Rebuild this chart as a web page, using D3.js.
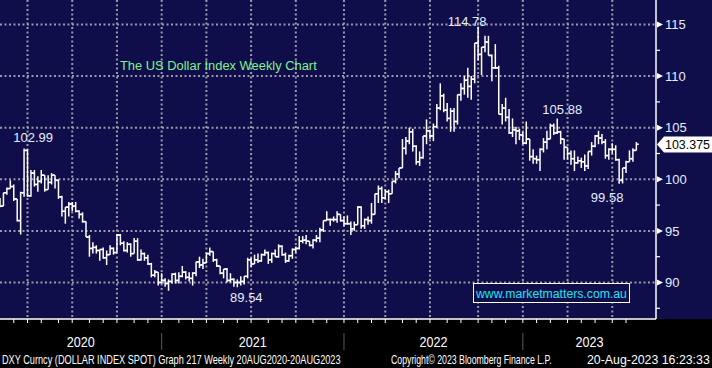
<!DOCTYPE html>
<html lang="en">
<head>
<meta charset="utf-8">
<title>The US Dollar Index Weekly Chart</title>
<script src="https://cdn.jsdelivr.net/npm/d3@7"></script>
<style>
  body { margin: 0; background: #000; overflow: hidden; }
  svg { display: block; }
</style>
</head>
<body>
<script>
// weekly DXY bars, one per Friday starting 31 Jan 2020
var firstWeek = "2020-01-31";

var opens = [
  97.8, 97.4, 98.7, 99.1, 99.3, 98.1, 96.0, 98.7, 102.8, 98.4, 100.6, 99.5, 99.8, 100.4, 99.0, 99.7,
  100.4, 99.9, 98.3, 96.9, 97.3, 97.6, 97.4, 96.9, 96.6, 95.9, 94.4, 93.3, 93.4, 93.1, 93.2, 92.4,
  92.7, 93.3, 92.9, 94.6, 93.8, 93.1, 93.7, 92.8, 94.0, 92.2, 92.8, 92.4, 91.8, 90.7, 91.0, 90.0,
  90.2, 89.9, 90.1, 90.8, 90.2, 90.6, 91.0, 90.5, 90.4, 90.9, 92.0, 91.7, 91.9, 92.8, 93.0, 92.2,
  91.6, 90.9, 91.3, 90.2, 90.3, 90.0, 90.0, 90.1, 90.6, 92.2, 91.8, 92.2, 92.1, 92.7, 92.9, 92.2,
  92.8, 92.5, 93.5, 92.7, 92.1, 92.6, 93.2, 93.3, 94.0, 94.1, 94.0, 93.6, 94.1, 94.3, 95.1, 96.0,
  96.1, 96.1, 96.1, 96.6, 96.0,
  95.7, 95.7, 95.2, 95.6, 97.3, 95.5, 96.1, 96.0, 96.6, 98.6, 99.1, 98.2, 98.8, 98.6, 99.8, 100.5,
  101.1, 103.0, 103.7, 104.6, 103.2, 101.7, 102.1, 104.2, 104.7, 104.2, 105.1, 106.9, 108.1, 106.7, 105.9, 106.6,
  105.6, 108.2, 108.8, 109.6, 109.0, 109.7, 113.2, 112.1, 112.8, 113.3, 112.0, 110.8, 110.8, 106.3, 106.9, 106.0,
  104.5, 104.8, 104.7, 104.3,
  103.5, 103.9, 102.2, 102.0, 101.9, 102.9, 103.6, 103.9, 105.2, 104.5, 104.6, 103.9, 103.1, 102.5, 102.0, 101.6,
  101.8, 101.7, 101.3, 102.7, 103.2, 104.2, 104.0, 103.6, 102.3, 102.9, 102.9, 101.9, 99.9, 101.1, 101.7, 102.0,
  102.8
];
var highs = [
  98.2, 98.7, 99.2, 99.9, 99.5, 98.1, 98.8, 102.99, 102.9, 100.9, 100.9, 100.3, 100.9, 100.4, 100.4, 100.6,
  100.4, 100.0, 98.4, 97.3, 97.8, 97.8, 97.8, 97.0, 96.8, 95.9, 94.6, 93.9, 93.6, 93.2, 93.4, 93.1,
  93.6, 93.4, 94.7, 94.7, 94.0, 93.9, 93.8, 94.3, 94.3, 93.2, 92.9, 92.7, 91.9, 91.2, 91.0, 90.9,
  90.4, 90.3, 90.9, 90.95, 91.0, 91.6, 91.1, 91.0, 91.0, 92.0, 92.5, 92.3, 92.9, 93.4, 93.0, 92.3,
  91.6, 91.3, 91.4, 90.9, 90.4, 90.3, 90.6, 90.6, 92.4, 92.4, 92.7, 92.8, 92.8, 93.2, 93.0, 92.9,
  93.2, 93.7, 93.6, 92.9, 92.7, 93.3, 93.5, 94.5, 94.5, 94.6, 94.0, 94.2, 94.6, 95.3, 96.0, 96.9,
  96.2, 96.4, 96.9, 96.6, 96.4,
  96.5, 95.9, 95.9, 97.4, 97.4, 96.2, 96.4, 97.7, 98.6, 99.4, 99.3, 99.0, 99.0, 99.8, 100.8, 101.1,
  103.9, 104.1, 105.0, 104.9, 103.3, 102.7, 104.2, 105.8, 104.8, 105.4, 107.3, 109.3, 108.3, 107.4, 106.9, 106.9,
  108.2, 109.3, 110.0, 110.8, 110.0, 113.2, 114.78, 112.8, 113.9, 113.9, 112.1, 113.1, 111.0, 107.3, 107.9, 106.8,
  105.9, 105.1, 104.9, 104.6,
  105.6, 103.9, 102.9, 102.3, 103.0, 104.0, 104.7, 105.4, 105.4, 105.88, 104.7, 103.9, 103.1, 102.8, 102.8, 102.2,
  102.1, 102.4, 102.7, 103.6, 104.3, 104.7, 104.4, 103.9, 103.0, 103.5, 103.3, 102.0, 101.1, 101.8, 102.8, 103.0,
  103.6
];
var lows = [
  97.3, 97.4, 98.5, 99.1, 97.9, 95.9, 94.65, 98.3, 98.3, 98.3, 99.3, 98.8, 99.6, 98.8, 99.0, 99.5,
  99.1, 98.1, 96.4, 95.7, 96.4, 96.9, 96.8, 96.2, 95.8, 94.4, 92.5, 92.8, 92.8, 92.1, 92.3, 91.7,
  92.7, 92.7, 92.9, 93.6, 93.0, 92.9, 92.5, 92.8, 92.1, 92.1, 92.1, 91.7, 90.5, 90.5, 89.7, 89.9,
  89.6, 89.2, 89.9, 89.9, 89.9, 90.5, 90.3, 90.1, 89.7, 90.6, 91.4, 91.3, 91.9, 92.6, 92.0, 91.5,
  90.8, 90.4, 90.0, 90.0, 89.6, 89.54, 89.7, 89.8, 90.4, 91.5, 91.8, 91.9, 92.0, 92.6, 91.8, 91.9,
  92.5, 92.4, 92.6, 91.9, 92.0, 92.3, 92.9, 93.2, 93.8, 93.7, 93.5, 93.3, 93.9, 93.9, 94.9, 96.0,
  95.5, 95.9, 95.8, 95.9, 95.5,
  95.6, 94.6, 95.0, 95.6, 95.2, 95.2, 95.6, 95.7, 96.6, 97.7, 97.7, 98.1, 97.7, 98.6, 99.6, 100.1,
  101.1, 102.4, 103.4, 102.7, 101.4, 101.3, 102.0, 103.4, 103.9, 103.7, 105.0, 106.7, 106.5, 105.6, 104.6, 104.6,
  105.3, 107.6, 108.2, 107.9, 107.7, 109.3, 111.5, 110.1, 112.3, 112.0, 109.5, 110.7, 106.3, 105.3, 105.6, 104.4,
  104.1, 103.4, 103.8, 103.4,
  103.4, 101.8, 101.5, 101.5, 100.8, 102.6, 102.9, 103.9, 104.3, 104.4, 103.4, 101.9, 101.9, 101.4, 100.8, 101.5,
  101.1, 100.8, 101.0, 102.3, 103.1, 103.4, 103.4, 102.0, 101.9, 102.5, 101.8, 99.58, 99.6, 100.6, 101.7, 101.7,
  102.8
];
var closes = [
  97.4, 98.7, 99.1, 99.3, 98.1, 96.0, 98.7, 102.8, 98.4, 100.6, 99.5, 99.8, 100.4, 99.0, 99.7, 100.4,
  99.9, 98.3, 96.9, 97.3, 97.6, 97.4, 96.9, 96.6, 95.9, 94.4, 93.3, 93.4, 93.1, 93.2, 92.4, 92.7,
  93.3, 92.9, 94.6, 93.8, 93.1, 93.7, 92.8, 94.0, 92.2, 92.8, 92.4, 91.8, 90.7, 91.0, 90.0, 90.2,
  89.9, 90.1, 90.8, 90.2, 90.6, 91.0, 90.5, 90.4, 90.9, 92.0, 91.7, 91.9, 92.8, 93.0, 92.2, 91.6,
  90.9, 91.3, 90.2, 90.3, 90.0, 90.0, 90.1, 90.6, 92.2, 91.8, 92.2, 92.1, 92.7, 92.9, 92.2, 92.8,
  92.5, 93.5, 92.7, 92.1, 92.6, 93.2, 93.3, 94.0, 94.1, 94.0, 93.6, 94.1, 94.3, 95.1, 96.0, 96.1,
  96.1, 96.1, 96.6, 96.0, 95.7,
  95.7, 95.2, 95.6, 97.3, 95.5, 96.1, 96.0, 96.6, 98.6, 99.1, 98.2, 98.8, 98.6, 99.8, 100.5, 101.1,
  103.0, 103.7, 104.6, 103.2, 101.7, 102.1, 104.2, 104.7, 104.2, 105.1, 106.9, 108.1, 106.7, 105.9, 106.6, 105.6,
  108.2, 108.8, 109.6, 109.0, 109.7, 113.2, 112.1, 112.8, 113.3, 112.0, 110.8, 110.8, 106.3, 106.9, 106.0, 104.5,
  104.8, 104.7, 104.3, 103.5,
  103.9, 102.2, 102.0, 101.9, 102.9, 103.6, 103.9, 105.2, 104.5, 104.6, 103.9, 103.1, 102.5, 102.0, 101.6, 101.8,
  101.7, 101.3, 102.7, 103.2, 104.2, 104.0, 103.6, 102.3, 102.9, 102.9, 101.9, 99.9, 101.1, 101.7, 102.0, 102.8,
  103.4
];

var yTicks = [90, 95, 100, 105, 110, 115];
var years = [2020, 2021, 2022, 2023];
var lastPrice = "103.375";
var callouts = [
  { text: "102.99", date: "2020-03-20", at: "high" },
  { text: "89.54", date: "2021-05-28", at: "low" },
  { text: "114.78", date: "2022-09-30", at: "high" },
  { text: "105.88", date: "2023-03-10", at: "high" },
  { text: "99.58", date: "2023-07-14", at: "low" }
];
var title = "The US Dollar Index Weekly Chart";
var watermark = "www.marketmatters.com.au";
var footer = [
  "DXY Curncy (DOLLAR INDEX SPOT) Graph 217  Weekly 20AUG2020-20AUG2023",
  "Copyright\u00a9 2023 Bloomberg Finance L.P.",
  "20-Aug-2023 16:23:33"
];

var width = 712, height = 368;
var plotRight = 656, plotBottom = 319;
var navy = "#100e4a", labelColor = "#e4ecff", gridColor = "#9a9aa6";
var font = "Liberation Sans, Arial, sans-serif";

var parse = d3.timeParse("%Y-%m-%d");
var start = parse(firstWeek);
var bars = closes.map(function(c, i) {
  return { date: d3.timeDay.offset(start, 7 * i), o: opens[i], h: highs[i], l: lows[i], c: c };
});

var x = d3.scaleTime()
  .domain([start, parse("2023-09-27")])
  .range([0, plotRight]);
var y = d3.scaleLinear()
  .domain([90, 115])
  .range([282.5, 24.5]);

// Bloomberg marks a period at the last weekly bar before it begins
function barBefore(d) { return d3.timeFriday.floor(d3.timeDay.offset(d, -1)); }

// squeeze a text horizontally so it spans exactly w pixels
function fitWidth(sel, w) {
  sel.each(function(d, i) {
    var t = d3.select(this);
    var target = typeof w === "function" ? w(d, i) : w;
    var natural = this.getComputedTextLength();
    var tx = +t.attr("x"), ty = +t.attr("y");
    t.attr("x", 0).attr("y", 0)
      .attr("transform", "translate(" + tx + "," + ty + ") scale(" + (target / natural) + ",1)");
  });
}

var svg = d3.select("body").append("svg")
  .attr("width", width)
  .attr("height", height);

svg.append("rect").attr("width", width).attr("height", height).attr("fill", "#000");
svg.append("rect").attr("width", width).attr("height", plotBottom).attr("fill", navy);

// dotted grid
var quarters = d3.timeMonth.every(3).range(parse("2020-03-01"), parse("2023-08-01"));
svg.append("g").selectAll("line").data(quarters).enter().append("line")
  .attr("x1", function(d) { return x(barBefore(d)); })
  .attr("x2", function(d) { return x(barBefore(d)); })
  .attr("y1", 0).attr("y2", plotBottom)
  .attr("stroke", gridColor).attr("stroke-width", 2).attr("stroke-dasharray", "2,2.5");
svg.append("g").selectAll("line").data(yTicks).enter().append("line")
  .attr("x1", 0).attr("x2", plotRight)
  .attr("y1", function(d) { return y(d); }).attr("y2", function(d) { return y(d); })
  .attr("stroke", gridColor).attr("stroke-width", 2).attr("stroke-dasharray", "2,2.5");

// OHLC bars
var bar = svg.append("g").attr("stroke", "#fff").attr("stroke-width", 1.5)
  .selectAll("g").data(bars).enter().append("g");
bar.append("line")
  .attr("x1", function(d) { return x(d.date); }).attr("x2", function(d) { return x(d.date); })
  .attr("y1", function(d) { return y(d.h); }).attr("y2", function(d) { return y(d.l); });
bar.append("line")
  .attr("x1", function(d) { return x(d.date) - 2.5; }).attr("x2", function(d) { return x(d.date); })
  .attr("y1", function(d) { return y(d.o); }).attr("y2", function(d) { return y(d.o); });
bar.append("line")
  .attr("x1", function(d) { return x(d.date); }).attr("x2", function(d) { return x(d.date) + 2.5; })
  .attr("y1", function(d) { return y(d.c); }).attr("y2", function(d) { return y(d.c); });

// high / low callouts
var nudge = { "102.99": [9, -6], "89.54": [9, 15], "114.78": [-11, -1], "105.88": [5, -5], "99.58": [-12, 18] };
svg.append("g").selectAll("text").data(callouts).enter().append("text")
  .attr("x", function(d) { return x(parse(d.date)) + nudge[d.text][0]; })
  .attr("y", function(d) { return y(+d.text) + nudge[d.text][1]; })
  .attr("text-anchor", "middle")
  .attr("font-family", font)
  .attr("font-size", 13)
  .attr("fill", labelColor)
  .text(function(d) { return d.text; });

// title and watermark
svg.append("text")
  .attr("x", 120).attr("y", 70)
  .attr("font-family", font)
  .attr("font-size", 13.5)
  .attr("fill", "#80f28c")
  .text(title)
  .call(fitWidth, 197);
svg.append("rect")
  .attr("x", 473.5).attr("y", 283.5).attr("width", 156).attr("height", 19)
  .attr("fill", navy).attr("stroke", "#fff").attr("stroke-width", 1);
svg.append("text")
  .attr("x", 476).attr("y", 298)
  .attr("font-family", font)
  .attr("font-size", 13.5)
  .attr("fill", "#22e2f2")
  .text(watermark)
  .call(fitWidth, 151);

// right price axis
svg.append("line")
  .attr("x1", plotRight).attr("x2", plotRight).attr("y1", 0).attr("y2", plotBottom)
  .attr("stroke", "#fff").attr("stroke-width", 1.5);
var minor = d3.range(87.5, 117, 5);
svg.append("g").selectAll("line").data(minor).enter().append("line")
  .attr("x1", plotRight).attr("x2", plotRight + 4)
  .attr("y1", function(d) { return y(d); }).attr("y2", function(d) { return y(d); })
  .attr("stroke", "#fff").attr("stroke-width", 1.2);
var tick = svg.append("g").selectAll("g").data(yTicks).enter().append("g")
  .attr("transform", function(d) { return "translate(" + plotRight + "," + y(d) + ")"; });
tick.append("path").attr("d", "M1,-3L7,0L1,3Z").attr("fill", "#fff");
tick.append("text")
  .attr("x", 9).attr("dy", "0.36em")
  .attr("font-family", font)
  .attr("font-size", 13)
  .attr("fill", labelColor)
  .text(function(d) { return d; });

// last price tag
var py = y(+lastPrice);
svg.append("path")
  .attr("d", "M657," + py + "L664," + (py - 8) + "L712," + (py - 8) + "L712," + (py + 8) + "L664," + (py + 8) + "Z")
  .attr("fill", "#fff");
svg.append("text")
  .attr("x", 665).attr("y", py + 4.7)
  .attr("font-family", font)
  .attr("font-size", 13)
  .attr("fill", "#000")
  .text(lastPrice)
  .call(fitWidth, 45);

// time axis
svg.append("line")
  .attr("x1", 0).attr("x2", plotRight).attr("y1", plotBottom).attr("y2", plotBottom)
  .attr("stroke", "#fff").attr("stroke-width", 1.5);
var months = d3.timeMonth.range(parse("2020-03-01"), parse("2023-09-01"));
svg.append("g").selectAll("line").data(months).enter().append("line")
  .attr("x1", function(d) { return x(barBefore(d)); })
  .attr("x2", function(d) { return x(barBefore(d)); })
  .attr("y1", plotBottom).attr("y2", plotBottom + 4)
  .attr("stroke", "#fff").attr("stroke-width", 1);

var yearEdges = [0].concat(years.slice(1).map(function(yr) { return x(barBefore(new Date(yr, 0, 1))); }), [plotRight]);
svg.append("g").selectAll("line").data(yearEdges.slice(1, -1)).enter().append("line")
  .attr("x1", function(d) { return d; }).attr("x2", function(d) { return d; })
  .attr("y1", 333).attr("y2", 350)
  .attr("stroke", "#5a5a5a").attr("stroke-width", 1);
svg.append("g").selectAll("text").data(years).enter().append("text")
  .attr("x", function(d, i) { return (yearEdges[i] + yearEdges[i + 1]) / 2 - 14; })
  .attr("y", 347)
  .attr("font-family", font)
  .attr("font-size", 14.5)
  .attr("fill", "#fff")
  .text(function(d) { return d; })
  .call(fitWidth, 28);

// footer line
var footX = [2, 391, 587], footW = [339, 161, 123];
svg.append("g").selectAll("text").data(footer).enter().append("text")
  .attr("x", function(d, i) { return footX[i]; })
  .attr("y", 364)
  .attr("font-family", font)
  .attr("font-size", 12.5)
  .attr("fill", "#fff")
  .text(function(d) { return d; })
  .call(fitWidth, function(d, i) { return footW[i]; });
</script>
</body>
</html>
